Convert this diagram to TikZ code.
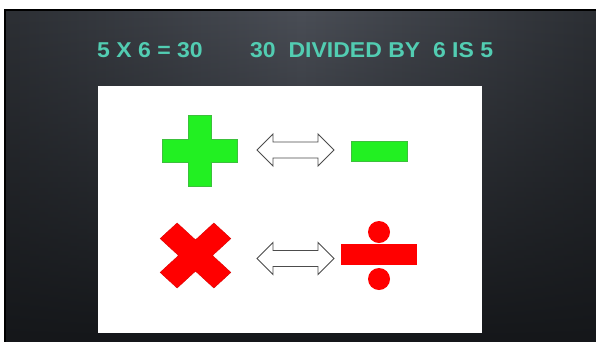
\documentclass[tikz,border=0pt]{standalone}
\usepackage{fontspec}
\setmainfont{Liberation Sans}
\usetikzlibrary{fadings}
\definecolor{teal1}{HTML}{52CDB2}
\definecolor{bgmid}{HTML}{4A4E56}
\definecolor{bgside}{HTML}{2C2F34}
\definecolor{bgbot}{HTML}{15171A}
\definecolor{grn}{HTML}{22F022}
\definecolor{grnline}{HTML}{3CC03C}
\definecolor{rd}{HTML}{FF0000}
\tikzset{
  title/.style={text=teal1,font=\bfseries\fontsize{21.5}{21.5}\selectfont,inner sep=0pt,anchor=base west},
  greenshape/.style={fill=grn,draw=grnline,line width=0.6pt},
  redshape/.style={fill=rd,draw=rd!85!black,line width=0.4pt},
  dblarrow/.style={fill=white,draw=black!70,line width=0.9pt,line join=miter}
}
\begin{document}
\begin{tikzpicture}[x=1pt,y=-1pt]
\useasboundingbox (0,0) rectangle (596,341);
\fill[white] (0,0) rectangle (596,341);
% slide background
\shade[left color=bgside,right color=bgside,middle color=bgmid] (5,10) rectangle (597,342);
\fill[bgbot,path fading=north] (5,10) rectangle (597,342);
\draw[black,line width=2pt] (597,10) -- (5,10) -- (5,342);
% titles
\node[title] (t1) at (97,57) {\scalebox{1.07}[1]{5 X 6 = 30}};
\node[title] (t2) at (250,57) {\scalebox{1.07}[1]{30\ \ DIVIDED BY\ \ 6 IS 5}};
% white panel
\node[fill=white,minimum width=384pt,minimum height=247pt,inner sep=0pt,anchor=north west] (panel) at (98,86) {};
% plus
\draw[greenshape] (188,115) -- (211,115) -- (211,139) -- (237,139) -- (237,162) -- (211,162) -- (211,186) -- (188,186) -- (188,162) -- (162,162) -- (162,139) -- (188,139) -- cycle;
% minus
\draw[greenshape] (351,141) rectangle (407,161);
% arrows
\foreach \yy in {150,258.5}{
\draw[dblarrow] (257,\yy) -- (273,\yy-16) -- (273,\yy-8) -- (318,\yy-8) -- (318,\yy-16) -- (334,\yy) -- (318,\yy+16) -- (318,\yy+8) -- (273,\yy+8) -- (273,\yy+16) -- cycle;
}
% times
\begin{scope}[shift={(195.5,255.5)},yscale=0.92,rotate=45]
\draw[redshape] (12,12) -- (38,12) -- (38,-12) -- (12,-12) -- (12,-38) -- (-12,-38) -- (-12,-12) -- (-38,-12) -- (-38,12) -- (-12,12) -- (-12,38) -- (12,38) -- cycle;
\end{scope}
% divide
\fill[rd] (341,244) rectangle (417,265);
\fill[rd] (379,232) circle (11);
\fill[rd] (379,279) circle (11);
\end{tikzpicture}
\end{document}
